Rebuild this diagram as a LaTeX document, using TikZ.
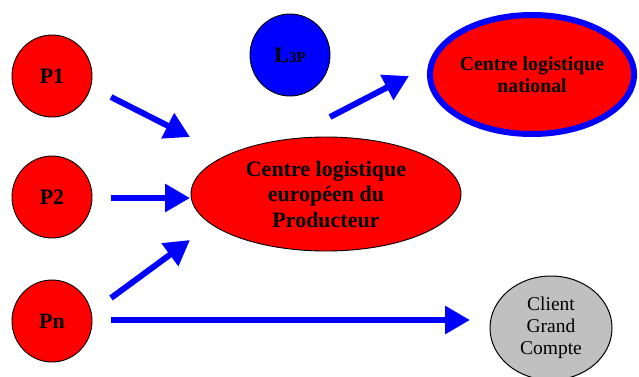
\documentclass[tikz,border=0pt]{standalone}
\usepackage{fontspec}
\setmainfont{Liberation Serif}
\usetikzlibrary{shapes.geometric,arrows.meta}
\definecolor{pred}{RGB}{255,0,0}
\definecolor{pblue}{RGB}{0,0,255}
\definecolor{pgray}{RGB}{192,192,192}
\tikzset{
  prod/.style={ellipse,draw=black,line width=0.9pt,fill=pred,minimum width=80pt,minimum height=82pt,inner sep=0pt,font=\fontsize{22}{26}\selectfont\bfseries},
  bigell/.style={ellipse,draw=black,line width=0.9pt,fill=pred,inner sep=0pt,align=center,font=\fontsize{22}{25.5}\selectfont\bfseries},
  natell/.style={ellipse,draw=pblue,line width=6pt,fill=pred,inner sep=0pt,align=center,font=\fontsize{19.8}{22.5}\selectfont\bfseries},
  lpp/.style={ellipse,draw=black,line width=0.9pt,fill=pblue,minimum width=80pt,minimum height=82pt,inner sep=0pt,font=\fontsize{22}{26}\selectfont\bfseries},
  client/.style={ellipse,draw=black,line width=1pt,fill=pgray,minimum width=122pt,minimum height=104pt,inner sep=0pt,align=center,font=\fontsize{19.5}{22}\selectfont},
  flow/.style={draw=pblue,line width=6pt,-{Triangle[length=25pt,width=27pt]}}
}
\begin{document}
\begin{tikzpicture}[x=1pt,y=-1pt]
\useasboundingbox (0,0) rectangle (639,376);
\node[prod] (p1) at (52,76) {P1};
\node[prod] (p2) at (52,197) {P2};
\node[prod] (pn) at (52,321) {Pn};
\node[lpp] (l3p) at (290,55) {L{\fontsize{15}{17}\selectfont 3P}};
\node[bigell,minimum width=270pt,minimum height=114pt] (clp) at (326,194) {Centre logistique\\europ\'een du\\Producteur};
\node[natell,minimum width=204pt,minimum height=119pt] (nat) at (532,74.5) {Centre logistique\\national};
\node[client] (cli) at (551,328) {Client\\Grand\\Compte};
\coordinate (a1s) at (111,97);  \coordinate (a1e) at (190,137);
\coordinate (a2s) at (111,198); \coordinate (a2e) at (190,198);
\coordinate (a3s) at (111,298); \coordinate (a3e) at (190,240);
\coordinate (a4s) at (330,117); \coordinate (a4e) at (409,76);
\coordinate (a5s) at (111,320); \coordinate (a5e) at (470,320);
\draw[flow] (a1s) -- (a1e);
\draw[flow] (a2s) -- (a2e);
\draw[flow] (a3s) -- (a3e);
\draw[flow] (a4s) -- (a4e);
\draw[flow] (a5s) -- (a5e);
\end{tikzpicture}
\end{document}
